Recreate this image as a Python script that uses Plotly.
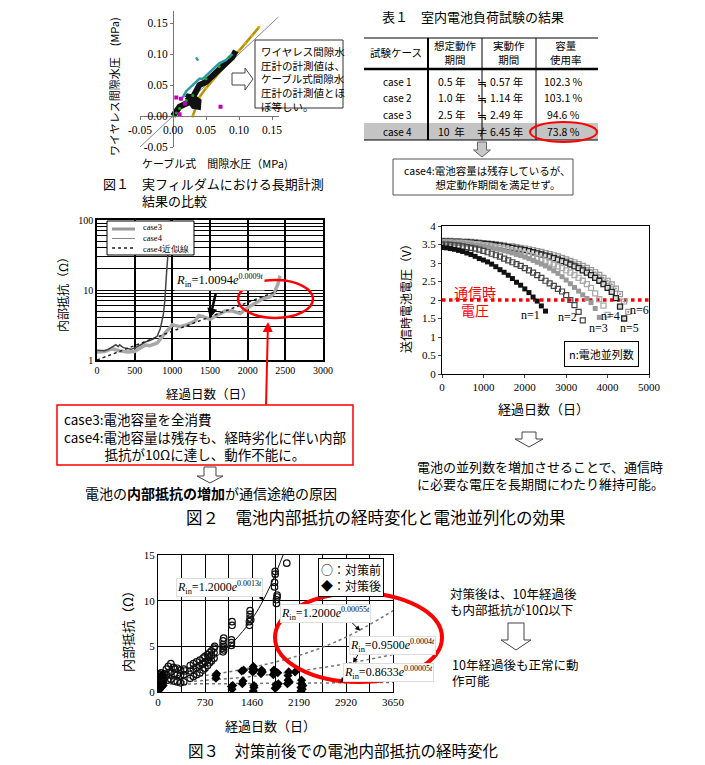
import plotly.graph_objects as go

# The page body has an 8px default margin, so the figure is 697x757 and placed at (8, 8).
OFF = 8
W, H = 705 - OFF, 765 - OFF
def X(px): return (px - OFF) / W
def Y(py): return 1 - (py - OFF) / H

JP = "Noto Sans CJK JP"
SERIF = "Liberation Serif"

# ---------------- Fig.1 data (cable vs wireless pore pressure, MPa) ----------------
diag_x = [-0.05, 0.16]
diag_y = [-0.05, 0.16]
yellow_x = [0.030, 0.035, 0.040, 0.050, 0.060, 0.070, 0.080, 0.090, 0.100, 0.110, 0.120, 0.130]
yellow_y = [0.000, 0.015, 0.030, 0.045, 0.058, 0.070, 0.082, 0.095, 0.105, 0.117, 0.130, 0.143]
black_x = [0.000, 0.005, 0.010, 0.020, 0.025, 0.030, 0.035, 0.040, 0.050, 0.060, 0.070, 0.080, 0.090, 0.095]
black_y = [0.000, 0.008, 0.015, 0.020, 0.022, 0.030, 0.040, 0.050, 0.055, 0.065, 0.075, 0.085, 0.095, 0.105]
blob_x = [0.020, 0.030, 0.040, 0.041, 0.032, 0.022, 0.020]
blob_y = [0.030, 0.014, 0.012, 0.025, 0.032, 0.034, 0.030]
cyan_x = [0.015, 0.020, 0.025, 0.030, 0.035, 0.040, 0.045, 0.050, 0.060, 0.070, 0.080, 0.090]
cyan_y = [0.030, 0.040, 0.045, 0.050, 0.055, 0.060, 0.060, 0.065, 0.075, 0.085, 0.090, 0.100]
cyan_pt_x = [0.035, 0.038]
cyan_pt_y = [0.091, 0.093]
mag_x = [0.005, 0.012, 0.018, 0.010, 0.072]
mag_y = [0.030, 0.028, 0.020, 0.003, 0.015]
green_x = [0.000, 0.005, 0.010, 0.020, 0.030, 0.050, 0.070, 0.085]
green_y = [0.000, 0.005, 0.012, 0.025, 0.033, 0.060, 0.080, 0.095]
f1_ticks = [-0.05, 0.0, 0.05, 0.10, 0.15]
f1_ticktext = ["-0.05", "0.00", "0.05", "0.10", "0.15"]

# ---------------- Table 1 ----------------
tbl_cases = ["case 1", "case 2", "case 3", "case 4"]
tbl_plan = ["0.5 年", "1.0 年", "2.5 年", "10  年"]
tbl_sign = ["≒", "≒", "≒", "≠"]
tbl_actual = ["0.57 年", "1.14 年", "2.49 年", "6.45 年"]
tbl_usage = ["102.3 %", "103.1 %", "94.6 %", "73.8 %"]

# ---------------- Fig.2 left (internal resistance, log) ----------------
case3_days = [0, 50, 100, 150, 200, 250, 280, 300, 350, 400, 450, 500, 550, 600, 650, 700, 750, 800, 840, 880, 900, 924, 950, 975]
case3_res = [1.38, 1.37, 1.36, 1.42, 1.55, 1.65, 1.55, 1.65, 1.5, 1.45, 1.42, 1.48, 1.58, 1.72, 1.82, 1.9, 2.0, 2.2, 2.8, 4.4, 7.0, 18.0, 45.0, 100.0]
case4_days = [0, 100, 200, 300, 400, 500, 600, 660, 700, 800, 900, 1000, 1100, 1200, 1300, 1350, 1400, 1500, 1600, 1700, 1800, 1900, 2000, 2100, 2200, 2300, 2350, 2400, 2430]
case4_res = [1.3, 1.32, 1.45, 1.35, 1.3, 1.32, 1.55, 1.64, 1.6, 1.75, 2.4, 3.2, 3.0, 3.2, 3.6, 4.3, 4.2, 3.8, 4.4, 5.0, 5.0, 4.6, 5.6, 6.5, 7.5, 8.0, 9.0, 12.0, 16.0]
fit4_days = [0, 2390]
fit4_res = [1.0, 9.6]
log_tickvals = [1, 2, 3, 4, 5, 6, 7, 8, 9, 10, 20, 30, 40, 50, 60, 70, 80, 90, 100]
log_ticktext = ["1", "", "", "", "", "", "", "", "", "10", "", "", "", "", "", "", "", "", "100"]
legend_names = ["case3", "case4", "case4近似線"]

# ---------------- Fig.2 right (battery voltage vs days, n parallel) ----------------
v_days = list(range(0, 4600, 100))
v_n1 = [3.42, 3.41, 3.39, 3.37, 3.34, 3.31, 3.27, 3.23, 3.18, 3.12, 3.08, 3.03, 2.97, 2.90, 2.82, 2.75,
        2.67, 2.58, 2.48, 2.40, 2.30, 2.20, 2.08, 1.97, 1.84, 1.70]
v_n2 = [3.50, 3.50, 3.49, 3.48, 3.47, 3.45, 3.43, 3.41, 3.39, 3.36, 3.33, 3.29, 3.25, 3.21, 3.17, 3.12,
        3.07, 3.02, 2.97, 2.92, 2.86, 2.80, 2.74, 2.67, 2.60, 2.52, 2.45, 2.38, 2.30, 2.23, 2.13, 2.00,
        1.86, 1.68, 1.45]
v_n3 = [3.55, 3.55, 3.54, 3.54, 3.53, 3.52, 3.51, 3.50, 3.48, 3.47, 3.45, 3.43, 3.41, 3.38, 3.36, 3.33,
        3.30, 3.27, 3.23, 3.20, 3.16, 3.12, 3.07, 3.02, 2.97, 2.92, 2.86, 2.79, 2.72, 2.63, 2.54, 2.44,
        2.34, 2.24, 2.14, 2.04, 1.93, 1.77, 1.53]
v_n4 = [3.56, 3.56, 3.56, 3.55, 3.55, 3.54, 3.53, 3.52, 3.51, 3.50, 3.48, 3.47, 3.45, 3.43, 3.41, 3.39,
        3.36, 3.34, 3.31, 3.28, 3.25, 3.21, 3.18, 3.14, 3.10, 3.06, 3.01, 2.96, 2.91, 2.86, 2.80, 2.74,
        2.67, 2.60, 2.52, 2.43, 2.33, 2.18, 2.02, 1.85, 1.60]
v_n5 = [3.58, 3.58, 3.58, 3.57, 3.57, 3.56, 3.56, 3.55, 3.54, 3.53, 3.52, 3.51, 3.50, 3.48, 3.47, 3.45,
        3.43, 3.41, 3.39, 3.37, 3.35, 3.32, 3.29, 3.26, 3.23, 3.20, 3.17, 3.13, 3.09, 3.05, 3.01, 2.96,
        2.91, 2.86, 2.80, 2.74, 2.67, 2.60, 2.52, 2.43, 2.33, 2.22, 2.05, 1.82, 1.50]
v_n6 = [3.60, 3.60, 3.60, 3.59, 3.59, 3.58, 3.58, 3.57, 3.56, 3.55, 3.54, 3.53, 3.52, 3.51, 3.49, 3.48,
        3.46, 3.45, 3.43, 3.41, 3.39, 3.37, 3.35, 3.32, 3.30, 3.27, 3.24, 3.21, 3.18, 3.14, 3.10, 3.06,
        3.02, 2.97, 2.92, 2.87, 2.81, 2.75, 2.68, 2.60, 2.52, 2.42, 2.31, 2.16, 1.96, 1.68]
comm_v_x = [0, 5000]
comm_v_y = [2, 2]
n_labels = ["n=1", "n=2", "n=3", "n=4", "n=5", "n=6"]
n_label_x = [2130, 3040, 3770, 4080, 4540, 4780]
n_label_y = [1.60, 1.55, 1.23, 1.58, 1.23, 1.73]

# ---------------- Fig.3 (before / after countermeasure) ----------------
pre_days = [0, 0, 0, 0, 0, 0, 10, 10, 10, 20, 20, 20, 30, 30, 30, 40, 40, 50, 50, 60, 60, 70, 80, 90, 100,
            130, 160, 200, 240, 270, 300, 350, 400, 420, 500, 550, 600, 650, 700, 730, 770, 800, 830, 870, 880,
            130, 170, 200, 250, 300, 350, 400, 500, 550, 600, 650, 700, 730, 770, 800, 830, 870,
            150, 200, 250, 300, 350, 400, 500, 550, 600, 650, 700, 730, 770, 800, 830, 870,
            1010, 1010, 1010, 1010, 1020, 1020, 1020, 1140, 1140, 1140, 1150, 1150,
            1420, 1420, 1430, 1430, 1430, 1440, 1810, 1810, 1820, 1820, 1840, 1840, 1850, 1850, 2000]
pre_res = [0.2, 0.5, 0.8, 1.1, 1.4, 1.7, 0.3, 0.9, 1.9, 0.6, 1.2, 2.0, 0.4, 1.0, 1.5, 0.8, 1.7, 1.3, 2.1, 0.9, 1.6, 1.1, 1.8, 1.3, 2.0,
           2.5, 2.8, 3.1, 2.7, 2.5, 2.6, 2.4, 2.5, 2.3, 2.9, 3.1, 3.3, 3.5, 3.7, 3.9, 4.1, 4.3, 4.5, 4.8, 5.0,
           1.9, 2.1, 2.2, 2.0, 1.9, 1.8, 1.9, 2.3, 2.5, 2.7, 2.9, 3.1, 3.3, 3.5, 3.8, 4.0, 4.3,
           1.3, 1.4, 1.2, 1.1, 1.0, 1.1, 1.5, 1.7, 1.9, 2.1, 2.4, 2.6, 2.9, 3.2, 3.4, 3.7,
           4.4, 4.8, 5.2, 5.6, 4.6, 5.0, 5.9, 5.1, 5.4, 5.7, 7.3, 7.7,
           7.3, 7.7, 8.1, 8.5, 8.9, 7.9, 11.5, 12.0, 12.9, 13.2, 9.7, 10.1, 10.4, 10.6, 14.1]
post_days = [0, 0, 0, 0, 0, 10, 20, 30, 40, 50, 60, 70, 80, 90,
             900, 900, 910, 1140, 1150, 1160, 1300, 1310, 1320, 1330,
             1470, 1470, 1480, 1480, 1490, 1490, 1500, 1600, 1610, 1620,
             1790, 1800, 1810, 1820, 1830, 1850, 1860, 1870,
             2010, 2020, 2020, 2030, 2040, 2130, 2220, 2220, 2230, 2230, 2240, 2250]
post_res = [0.2, 0.6, 1.0, 1.4, 1.8, 0.4, 1.2, 0.8, 1.6, 0.5, 1.1, 1.9, 0.7, 1.4,
            1.5, 1.8, 2.0, 0.6, 0.3, 0.7, 2.3, 0.9, 1.2, 2.4,
            2.2, 2.5, 2.8, 0.1, 0.5, 0.7, 2.4, 2.0, 2.4, 2.2,
            1.9, 2.4, 2.2, 0.4, 0.8, 0.6, 2.1, 0.9,
            0.9, 1.3, 1.8, 2.2, 1.1, 2.2, 0.1, 0.5, 0.9, 1.3, 0.3, 0.7]
fitpre_days = [0, 250, 500, 750, 1000, 1250, 1500, 1750, 1960]
fitpre_res = [1.2, 1.66, 2.3, 3.2, 4.4, 6.1, 8.4, 11.7, 15.3]
fitA_days = [0, 730, 1460, 2190, 2920, 3650]
fitA_res = [1.2, 1.8, 2.7, 4.0, 6.0, 8.9]
fitB_days = [0, 730, 1460, 2190, 2920, 3650]
fitB_res = [0.95, 1.27, 1.7, 2.3, 3.1, 4.1]
fitC_days = [0, 3650]
fitC_res = [0.86, 1.05]
f3_tickvals = [0, 365, 730, 1095, 1460, 1825, 2190, 2555, 2920, 3285, 3650]
f3_ticktext = ["0", "", "730", "", "1460", "", "2190", "", "2920", "", "3650"]

fig = go.Figure()

# ---- Fig.1 traces ----
fig.add_trace(go.Scatter(x=diag_x, y=diag_y, mode="lines", line=dict(color="#888", width=1), xaxis="x", yaxis="y"))
fig.add_trace(go.Scatter(x=yellow_x, y=yellow_y, mode="lines+markers", line=dict(color="#B8900A", width=2.5),
                         marker=dict(size=3, color="#E0B000"), xaxis="x", yaxis="y"))
fig.add_trace(go.Scatter(x=black_x, y=black_y, mode="lines", line=dict(color="#111", width=6), xaxis="x", yaxis="y"))
fig.add_trace(go.Scatter(x=blob_x, y=blob_y, mode="lines", fill="toself", fillcolor="#111", line=dict(color="#111", width=3),
                         xaxis="x", yaxis="y"))
fig.add_trace(go.Scatter(x=cyan_x, y=cyan_y, mode="lines", line=dict(color="#2A9AA6", width=2.5), xaxis="x", yaxis="y"))
fig.add_trace(go.Scatter(x=cyan_pt_x, y=cyan_pt_y, mode="lines", line=dict(color="#2A9AA6", width=4), xaxis="x", yaxis="y"))
fig.add_trace(go.Scatter(x=mag_x, y=mag_y, mode="markers", marker=dict(size=4, color="#C000C0", symbol="square"), xaxis="x", yaxis="y"))
fig.add_trace(go.Scatter(x=green_x, y=green_y, mode="markers", marker=dict(size=3, color="#20A020"), xaxis="x", yaxis="y"))

# ---- Fig.2 left traces ----
fig.add_trace(go.Scatter(x=case4_days, y=case4_res, mode="lines", name="case4", line=dict(color="#A8A8A8", width=3.5),
                         xaxis="x2", yaxis="y2"))
fig.add_trace(go.Scatter(x=case3_days, y=case3_res, mode="lines", name="case3", line=dict(color="#444", width=1.5),
                         xaxis="x2", yaxis="y2"))
fig.add_trace(go.Scatter(x=fit4_days, y=fit4_res, mode="lines", name="case4近似線", line=dict(color="#222", width=1.5, dash="dot"),
                         xaxis="x2", yaxis="y2"))

# ---- Fig.2 right traces ----
fig.add_trace(go.Scatter(x=comm_v_x, y=comm_v_y, mode="lines", line=dict(color="red", width=3.5, dash="dot"), xaxis="x3", yaxis="y3"))
series = [
    (v_n6, dict(symbol="square-open-dot", color="#999", size=5, line=dict(width=1.2))),
    (v_n5, dict(symbol="square", color="#d8d8d8", size=5, line=dict(color="#222", width=1.3))),
    (v_n4, dict(symbol="square-open", color="#aaa", size=5, line=dict(width=1.3))),
    (v_n3, dict(symbol="square", color="#999", size=5, line=dict(color="#999", width=0))),
    (v_n2, dict(symbol="square-open", color="#444", size=5, line=dict(width=1.2))),
    (v_n1, dict(symbol="square", color="#111", size=5, line=dict(color="#111", width=0))),
]
for vals, mk in series:
    fig.add_trace(go.Scatter(x=v_days[:len(vals)], y=vals, mode="markers", marker=mk, xaxis="x3", yaxis="y3"))

# ---- Fig.3 traces ----
fig.add_trace(go.Scatter(x=fitA_days, y=fitA_res, mode="lines", line=dict(color="#777", width=1.5, dash="dot", shape="spline"), xaxis="x4", yaxis="y4"))
fig.add_trace(go.Scatter(x=fitB_days, y=fitB_res, mode="lines", line=dict(color="#777", width=1.5, dash="dot", shape="spline"), xaxis="x4", yaxis="y4"))
fig.add_trace(go.Scatter(x=fitC_days, y=fitC_res, mode="lines", line=dict(color="#777", width=1.5, dash="dot"), xaxis="x4", yaxis="y4"))
fig.add_trace(go.Scatter(x=pre_days, y=pre_res, mode="markers", marker=dict(symbol="circle-open", size=6.5, color="#111", line=dict(width=1.2)),
                         xaxis="x4", yaxis="y4"))
fig.add_trace(go.Scatter(x=post_days, y=post_res, mode="markers", marker=dict(symbol="diamond", size=7, color="#000"),
                         xaxis="x4", yaxis="y4"))
fig.add_trace(go.Scatter(x=fitpre_days, y=fitpre_res, mode="lines", line=dict(color="#111", width=1, shape="spline"), xaxis="x4", yaxis="y4"))

ann = []
shapes = []

def T(x, y, text, size=12, color="black", family=JP, xanchor="center", yanchor="middle", angle=0, **kw):
    ann.append(dict(x=X(x), y=Y(y), xref="paper", yref="paper", text=text, showarrow=False,
                    font=dict(size=size, color=color, family=family), xanchor=xanchor, yanchor=yanchor,
                    textangle=angle, **kw))

def arrow_to(x, y, xref, yref, ax, ay, color="black", width=1, head=2, size=1):
    ann.append(dict(x=x, y=y, xref=xref, yref=yref, text="", showarrow=True, arrowhead=head, arrowsize=size,
                    arrowwidth=width, arrowcolor=color, ax=ax, ay=ay))

def rect(x0, y0, x1, y1, color="black", width=1, fill="rgba(0,0,0,0)", layer="above"):
    shapes.append(dict(type="rect", xref="paper", yref="paper", x0=X(x0), y0=Y(y1), x1=X(x1), y1=Y(y0),
                       line=dict(color=color, width=width), fillcolor=fill, layer=layer))

def hline(x0, x1, y, color="black", width=1, dash="solid"):
    shapes.append(dict(type="line", xref="paper", yref="paper", x0=X(x0), x1=X(x1), y0=Y(y), y1=Y(y),
                       line=dict(color=color, width=width, dash=dash)))

def vline(x, y0, y1, color="black", width=1):
    shapes.append(dict(type="line", xref="paper", yref="paper", x0=X(x), x1=X(x), y0=Y(y0), y1=Y(y1), line=dict(color=color, width=width)))

def ellipse(x0, y0, x1, y1, color="red", width=2):
    shapes.append(dict(type="circle", xref="paper", yref="paper", x0=X(x0), y0=Y(y1), x1=X(x1), y1=Y(y0),
                       line=dict(color=color, width=width), fillcolor="rgba(0,0,0,0)"))

def down_arrow(cx, y0, y1, sw, hw, hh, fill="white", color="#444"):
    pts = [(cx - sw / 2, y0), (cx + sw / 2, y0), (cx + sw / 2, y1 - hh), (cx + hw / 2, y1 - hh), (cx, y1),
           (cx - hw / 2, y1 - hh), (cx - sw / 2, y1 - hh)]
    path = "M " + " L ".join(f"{X(a):.5f},{Y(b):.5f}" for a, b in pts) + " Z"
    shapes.append(dict(type="path", xref="paper", yref="paper", path=path, fillcolor=fill, line=dict(color=color, width=1)))

def right_arrow(x0, x1, cy, sh, hh, hw, fill="white", color="#444"):
    pts = [(x0, cy - sh / 2), (x1 - hw, cy - sh / 2), (x1 - hw, cy - hh / 2), (x1, cy), (x1 - hw, cy + hh / 2),
           (x1 - hw, cy + sh / 2), (x0, cy + sh / 2)]
    path = "M " + " L ".join(f"{X(a):.5f},{Y(b):.5f}" for a, b in pts) + " Z"
    shapes.append(dict(type="path", xref="paper", yref="paper", path=path, fillcolor=fill, line=dict(color=color, width=1)))

def rin(coef, expo, sup=8):
    return (f"<i>R</i><sub>in</sub>={coef}<i>e</i>"
            f"<sup><span style='font-size:{sup}px'>{expo}<i>t</i></span></sup>")

# ---- Fig.1 texts ----
T(114, 86, "ワイヤレス間隙水圧　(MPa)", size=11, angle=-90)
T(215, 163, "ケーブル式　間隙水圧（MPa)", size=11)
T(101, 172, "図１　実フィルダムにおける長期計測<br>　　　結果の比較", size=13, xanchor="left", yanchor="top", align="left")
rect(255, 40, 343, 108, color="#333", width=1)
T(259, 42, "ワイヤレス間隙水<br>圧計の計測値は、<br>ケーブル式間隙水<br>圧計の計測値とほ<br>ぼ等しい。", size=10.5,
  xanchor="left", yanchor="top", align="left")
right_arrow(232, 253, 79, 12, 22, 8)

# ---- Table 1 ----
T(473, 17, "表１　室内電池負荷試験の結果", size=13)
rect(364, 123, 598, 140, color="rgba(0,0,0,0)", width=0, fill="#c4c4c4", layer="below")
hline(364, 598, 38, width=1)
hline(364, 598, 69, width=2.5)
hline(364, 598, 140, width=1)
vline(428, 38, 140, width=2)
vline(482, 38, 140, width=1)
vline(536, 38, 140, width=1)
T(396, 53, "試験ケース", size=10.5)
T(455, 53, "想定動作<br>期間", size=10.5)
T(509, 53, "実動作<br>期間", size=10.5)
T(566, 53, "容量<br>使用率", size=10.5)
row_y = [82, 98, 115, 132]
for i in range(4):
    T(397, row_y[i], tbl_cases[i], size=10)
    T(452, row_y[i], tbl_plan[i], size=10.5)
    T(482, row_y[i], tbl_sign[i], size=12)
    T(506, row_y[i], tbl_actual[i], size=10.5)
    T(563, row_y[i], tbl_usage[i], size=10.5)
ellipse(530, 122, 597, 142, width=2)
down_arrow(482, 142, 157, 9, 17, 7, fill="#c8c8c8", color="#666")
rect(393, 159, 573, 195, color="#555", width=1)
T(402, 177, "case4:電池容量は残存しているが、<br>　　　想定動作期間を満足せず。", size=10.5, xanchor="left", align="left")

# ---- Fig.2 left texts & key box ----
rect(107, 221, 194, 255, color="black", width=1, fill="white")
key_styles = [dict(color="#999", width=3, dash="solid"), dict(color="#888", width=1, dash="solid"),
              dict(color="#222", width=1.5, dash="dot")]
for i, st in enumerate(key_styles):
    hline(112, 135, 229 + i * 9.5, **st)
T(141, 238, "<br>".join(legend_names), size=8.5, family=SERIF, xanchor="left", align="left")
T(62, 291, "内部抵抗（Ω）", size=12, angle=-90)
T(210, 394, "経過日数（日）", size=12.5)
T(219, 280, rin("1.0094", "0.0009"), size=12.5, family=SERIF, bgcolor="white")
arrow_to(1500, 0.595, "x2", "y2", 6, -26, width=2.5, size=0.8)
ellipse(238, 280, 313, 318, width=2.5)
ann.append(dict(x=X(268), y=Y(322), xref="paper", yref="paper", text="", showarrow=True, arrowhead=2, arrowsize=1,
                arrowwidth=2, arrowcolor="red", ax=-2, ay=84))
rect(57, 405, 353, 465, color="red", width=1.5, fill="white")
T(62, 436, "case3:電池容量を全消費<br>case4:電池容量は残存も、経時劣化に伴い内部<br>　　　抵抗が10Ωに達し、動作不能に。",
  size=13.5, xanchor="left", align="left")
down_arrow(210, 467, 483, 12, 26, 7)
T(83, 493, "電池の<b>内部抵抗の増加</b>が通信途絶の原因", size=14, xanchor="left")

# ---- Fig.2 right texts ----
T(405, 296, "送信時電池電圧（V）", size=12, angle=-90)
T(543, 408, "経過日数（日）", size=13)
T(475, 301, "通信時<br>電圧", size=14, color="red")
for lbl, lx, ly in zip(n_labels, n_label_x, n_label_y):
    ann.append(dict(x=lx, y=ly, xref="x3", yref="y3", text=lbl, showarrow=False, xanchor="center", yanchor="middle",
                    font=dict(size=12, family=SERIF, color="black")))
T(601, 354, "n:電池並列数", size=11, bordercolor="black", borderwidth=1, borderpad=4, bgcolor="white")
down_arrow(529, 432, 447, 14, 28, 8)
T(415, 475, "電池の並列数を増加させることで、通信時<br>に必要な電圧を長期間にわたり維持可能。", size=13,
  xanchor="left", align="left")
T(376, 517, "図２　電池内部抵抗の経時変化と電池並列化の効果", size=16.5)

# ---- Fig.3 texts ----
T(127, 628, "内部抵抗（Ω）", size=13, angle=-90)
T(270, 725, "経過日数（日）", size=13)
T(351, 577, "○：対策前<br>◆：対策後", size=12, bordercolor="black", borderwidth=1, borderpad=2,
  bgcolor="white", align="left")
rlabels = [
    ((220, 587), rin("1.2000", "0.0013"), (1640, 10.0), -8, -12),
    ((325, 613), rin("1.2000", "0.00055"), (3140, 6.7), -12, -12),
    ((392, 645), rin("0.9500", "0.0004"), (3030, 3.2), 8, -13),
    ((388, 672), rin("0.8633", "0.00005"), (2830, 1.05), 8, -8),
]
for (px, py), txt, (ax_, ay_), dx, dy in rlabels:
    arrow_to(ax_, ay_, "x4", "y4", dx, dy)
    T(px, py, txt, size=12, family=SERIF, bgcolor="white", bordercolor="#ddd", borderwidth=1, borderpad=0)
ellipse(275, 593, 442, 682, width=4)
T(448, 601, "対策後は、10年経過後<br>も内部抵抗が10Ω以下", size=12.5, xanchor="left", align="left")
down_arrow(516, 623, 650, 16, 30, 10)
T(450, 672, "10年経過後も正常に動<br>作可能", size=12.5, xanchor="left", align="left")
T(343, 750, "図３　対策前後での電池内部抵抗の経時変化", size=15.5)

tickfont_serif = dict(family=SERIF, size=11, color="black")

fig.update_layout(
    width=W, height=H, margin=dict(l=0, r=0, t=0, b=0, autoexpand=False),
    paper_bgcolor="white", plot_bgcolor="white", showlegend=False,
    annotations=ann, shapes=shapes,
    # Fig.1
    xaxis=dict(domain=[X(140), X(278.6)], range=[-0.05, 0.16], anchor="free", position=Y(116),
               tickvals=f1_ticks, ticktext=f1_ticktext, showgrid=False, zeroline=False, showline=True,
               linecolor="#777", linewidth=1, ticks="outside", ticklen=3, tickcolor="#777", automargin=False,
               tickfont=dict(family=SERIF, size=11.5, color="black")),
    yaxis=dict(domain=[Y(147), Y(10.6)], range=[-0.05, 0.17], anchor="free", position=X(173),
               tickvals=f1_ticks, ticktext=f1_ticktext, showgrid=False, zeroline=False, showline=True,
               linecolor="#777", linewidth=1, ticks="outside", ticklen=3, tickcolor="#777", automargin=False,
               tickfont=dict(family=SERIF, size=11.5, color="black")),
    # Fig.2 left
    xaxis2=dict(domain=[X(97), X(323)], range=[0, 3000], dtick=500, anchor="y2", showgrid=True, gridcolor="black",
                gridwidth=1.5, zeroline=False, showline=True, linecolor="black", linewidth=1.5, mirror=True,
                automargin=False, tickfont=dict(family=SERIF, size=10, color="black")),
    yaxis2=dict(domain=[Y(360), Y(220)], type="log", range=[0, 2], anchor="x2", tickvals=log_tickvals,
                ticktext=log_ticktext, showgrid=True, gridcolor="black", gridwidth=1.3, zeroline=False,
                showline=True, linecolor="black", linewidth=1.5, mirror=True, automargin=False,
                tickfont=dict(family=SERIF, size=10, color="black")),
    # Fig.2 right
    xaxis3=dict(domain=[X(442), X(649)], range=[0, 5000], dtick=1000, anchor="y3", showgrid=False, zeroline=False,
                showline=True, linecolor="black", linewidth=1, mirror=True, ticks="outside", ticklen=3,
                automargin=False, tickfont=tickfont_serif),
    yaxis3=dict(domain=[Y(374), Y(226)], range=[0, 4], dtick=0.5, anchor="x3", showgrid=False, zeroline=False,
                showline=True, linecolor="black", linewidth=1, mirror=True, ticks="outside", ticklen=3,
                automargin=False, tickfont=tickfont_serif),
    # Fig.3
    xaxis4=dict(domain=[X(158), X(393)], range=[0, 3650], anchor="y4", tickvals=f3_tickvals, ticktext=f3_ticktext,
                showgrid=True, gridcolor="black", gridwidth=1, zeroline=False, showline=True, linecolor="black",
                linewidth=1, mirror=True, automargin=False, tickfont=tickfont_serif),
    yaxis4=dict(domain=[Y(692), Y(555)], range=[0, 15], dtick=5, anchor="x4", showgrid=True, gridcolor="black",
                gridwidth=1, zeroline=False, showline=True, linecolor="black", linewidth=1, mirror=True,
                automargin=False, tickfont=tickfont_serif),
)

fig.write_html("out.html")
